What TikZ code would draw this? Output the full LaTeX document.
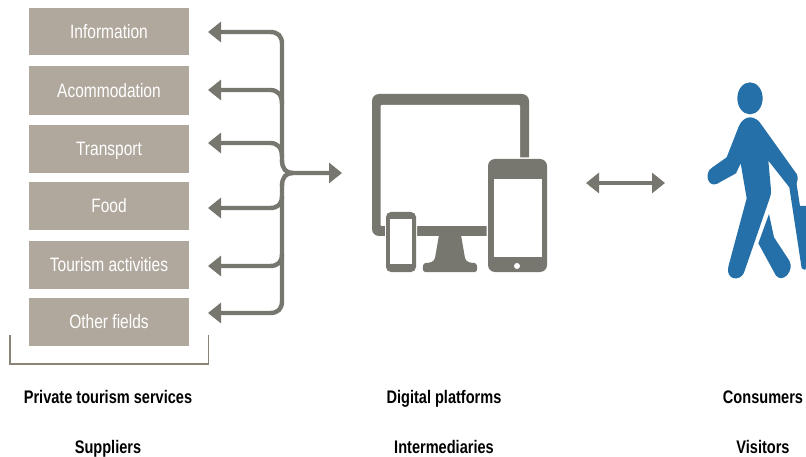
\documentclass[tikz,border=0pt]{standalone}
\usepackage{fontspec}
\setmainfont{Liberation Sans}
\newfontfamily\boxfont[FakeStretch=0.8]{Liberation Sans}
\newfontfamily\capfont[FakeStretch=0.8]{Liberation Sans Bold}
\usetikzlibrary{arrows.meta}
\definecolor{boxfill}{HTML}{B1A89D}
\definecolor{linegrey}{HTML}{77776F}
\definecolor{brk}{HTML}{8A8478}
\definecolor{walker}{HTML}{2570A8}
\tikzset{
  svc/.style={fill=boxfill,minimum width=160pt,inner sep=0pt,text=white,text height=13.5pt,text depth=0pt,font=\boxfont\fontsize{19.4}{19}\selectfont},
  captext/.style={inner sep=0pt,anchor=base,font=\capfont\fontsize{18.2}{18}\selectfont,text=black},
  flow/.style={draw=linegrey,line width=4.4pt},
  tipend/.style={-{Triangle[length=13pt,width=20pt]}},
  devfill/.style={fill=linegrey,draw=none},
  scr/.style={fill=white,draw=none}
}
\begin{document}
\begin{tikzpicture}[x=1pt,y=-1pt]
\useasboundingbox (0,0) rectangle (806,457);
% boxes
\node[svc,minimum height=47pt] (info) at (109,31.5) {Information};
\node[svc,minimum height=49pt] (acom) at (109,90.5) {Acommodation};
\node[svc,minimum height=48pt] (trans) at (109,149) {Transport};
\node[svc,minimum height=48pt] (food) at (109,206) {Food};
\node[svc,minimum height=48pt] (act) at (109,265) {Tourism activities};
\node[svc,minimum height=48pt] (other) at (109,322) {Other fields};
% connector ends
\coordinate (t1) at (208,32);
\coordinate (t2) at (208,90);
\coordinate (t3) at (208,143);
\coordinate (t4) at (208,208);
\coordinate (t5) at (208,266);
\coordinate (t6) at (208,313);
\coordinate (hub) at (293,173);
\coordinate (out) at (342,173);
% connectors
\draw[flow,tipend] (282,162) -- (282,44) .. controls (282,36) and (278,32) .. (270,32) -- (t1);
\draw[flow,tipend] (282,104) .. controls (282,95) and (278,90) .. (270,90) -- (t2);
\draw[flow,tipend] (282,157) .. controls (282,148) and (278,143) .. (270,143) -- (t3);
\draw[flow,tipend] (282,196) .. controls (282,204) and (278,208) .. (270,208) -- (t4);
\draw[flow,tipend] (282,254) .. controls (282,262) and (278,266) .. (270,266) -- (t5);
\draw[flow,tipend] (282,184) -- (282,301) .. controls (282,309) and (278,313) .. (270,313) -- (t6);
\draw[flow] (282,160) .. controls (282,169) and (286,173) .. (hub);
\draw[flow,tipend] (282,186) .. controls (282,177) and (286,173) .. (hub) -- (out);
% bracket
\draw[brk,line width=1.3pt] (10,335) -- (10,364) -- (208.5,364) -- (208.5,335);
% monitor
\fill[devfill,rounded corners=7pt] (372,94) rectangle (529,236);
\fill[scr,rounded corners=1pt] (380.5,105) rectangle (520,226);
\fill[devfill] (439,235) -- (461,235) -- (465,258) .. controls (466,262) and (470,263) .. (475,263)
  .. controls (478,264) and (478,272) .. (475,272) -- (425,272)
  .. controls (422,272) and (422,264) .. (425,263)
  .. controls (430,263) and (434,262) .. (435,258) -- cycle;
% tablet
\fill[white,rounded corners=7pt] (486.5,157.5) rectangle (548.5,273);
\fill[devfill,rounded corners=7pt] (488,159) rectangle (547,272);
\fill[scr] (494,179) rectangle (542,257);
\fill[scr] (517,266) circle (3pt);
% small phone
\fill[white,rounded corners=5pt] (385,211) rectangle (417,273);
\fill[devfill,rounded corners=5pt] (386,212) rectangle (416,272);
\fill[scr] (390,219) rectangle (412,264);
% arrow
\coordinate (dl) at (586,183);
\coordinate (dr) at (665,183);
\draw[flow,{Triangle[length=13pt,width=20pt]}-{Triangle[length=13pt,width=20pt]}] (dl) -- (dr);
% walker
\begin{scope}[shift={(690,70)},x=0.3333pt,y=-0.3333pt]
\fill[walker] (180,85) ellipse [x radius=38pt/3,y radius=48pt/3];
\fill[walker] (180,142) .. controls (195,142) and (207,152) .. (215,165) -- (320,312)
  .. controls (326,322) and (322,338) .. (317,345) -- (298,352) -- (235,272)
  -- (243,360) .. controls (243,372) and (242,378) .. (238,388)
  -- (162,608) .. controls (150,636) and (106,630) .. (115,590)
  -- (170,385) -- (152,280) -- (138,310) -- (80,342)
  .. controls (52,352) and (42,308) .. (66,293) -- (110,262)
  -- (146,170) .. controls (153,152) and (167,142) .. (180,142) -- cycle;
\fill[walker] (237,432) -- (252,502) -- (298,572)
  .. controls (314,600) and (280,642) .. (258,617)
  -- (205,520) -- cycle;
\fill[walker] (298,352) -- (318,330) -- (330,408) -- (360,408) -- (360,570) -- (345,600) -- (335,595) -- cycle;
\end{scope}
% captions
\node[captext] (c1) at (108,403) {Private tourism services};
\node[captext] (c2) at (108,453) {Suppliers};
\node[captext] (c3) at (444,403) {Digital platforms};
\node[captext] (c4) at (444,453) {Intermediaries};
\node[captext] (c5) at (763,403) {Consumers};
\node[captext] (c6) at (763,453) {Visitors};
\end{tikzpicture}
\end{document}
